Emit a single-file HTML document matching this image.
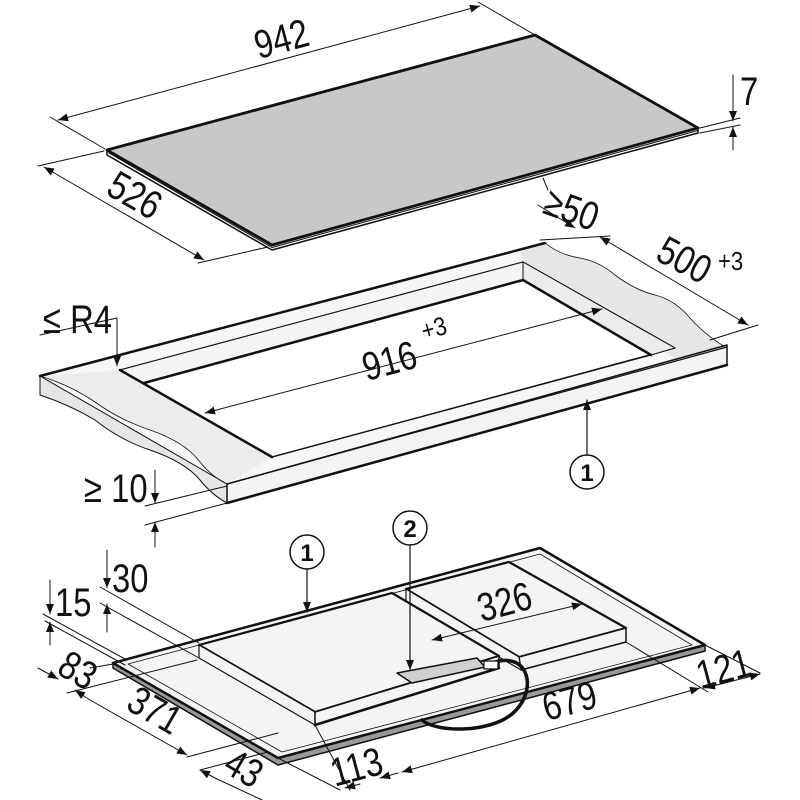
<!DOCTYPE html>
<html><head><meta charset="utf-8"><style>
html,body{margin:0;padding:0;background:#fff;}
svg{display:block;}
text{font-family:"Liberation Sans",sans-serif;fill:#111;}
</style></head><body>
<svg width="800" height="800" viewBox="0 0 800 800" xmlns="http://www.w3.org/2000/svg">
<defs>
<marker id="a" viewBox="0 0 10 10" refX="10" refY="5" markerWidth="14" markerHeight="10" markerUnits="userSpaceOnUse" orient="auto-start-reverse">
<path d="M0,1 L10,5 L0,9 z" fill="#111"/></marker>
</defs>
<g stroke="#111" fill="none" stroke-linecap="round" stroke-linejoin="round">

<!-- ===== GLASS TOP ===== -->
<polygon points="107,150 272,245 698,128 698,133 272,250 107,155" fill="#fff" stroke-width="1.5"/>
<line x1="109" y1="153" x2="272" y2="247.5" stroke-width="1"/>
<line x1="272" y1="247.5" x2="698" y2="130.5" stroke-width="1"/>
<polygon points="107,150 535,35 698,128 272,245" fill="#c8c8c8" stroke-width="2.8"/>
<line x1="105" y1="149" x2="50" y2="117" stroke-width="1"/>
<line x1="535" y1="35" x2="478" y2="2" stroke-width="1"/>
<line x1="58" y1="120" x2="480" y2="6" stroke-width="1" marker-start="url(#a)" marker-end="url(#a)"/>
<line x1="104" y1="151" x2="38" y2="166" stroke-width="1"/>
<line x1="268" y1="247" x2="198" y2="263" stroke-width="1"/>
<line x1="44" y1="167" x2="204" y2="260" stroke-width="1" marker-start="url(#a)" marker-end="url(#a)"/>
<line x1="700" y1="128" x2="740" y2="118" stroke-width="1"/>
<line x1="700" y1="133" x2="740" y2="125" stroke-width="1"/>
<line x1="733" y1="75" x2="733" y2="121" stroke-width="1" marker-end="url(#a)"/>
<line x1="733" y1="150" x2="733" y2="127" stroke-width="1" marker-end="url(#a)"/>
<line x1="543" y1="178" x2="548" y2="190" stroke-width="1"/>
<line x1="538" y1="205" x2="575" y2="228" stroke-width="1" marker-end="url(#a)"/>

<!-- ===== COUNTERTOP ===== -->
<polygon points="40,376 545,243 727,348 227,484" fill="#f6f6f6" stroke="none"/>
<path d="M520,250 L545,243 Q560,255 580,258 Q600,262 615,275 Q635,290 655,295 Q675,300 690,318 Q705,335 727,348 L680,361 L523,262 Z" fill="#e6e6e6" stroke="none"/>
<path d="M545,243 Q560,255 580,258 Q600,262 615,275 Q635,290 655,295 Q675,300 690,318 Q705,335 727,348" stroke-width="0.8"/>
<path d="M40,376 L120,370 L272,457 L227,484 Q212,477 200,462 Q185,442 150,430 Q120,420 95,402 Q70,385 40,376 Z" fill="#ececec" stroke="none"/>
<path d="M40,376 L40,395 Q70,405 95,420 Q120,440 150,450 Q185,462 200,480 Q212,495 227,503 L227,484 Z" fill="#e6e6e6" stroke-width="1"/>
<path d="M40,376 Q70,385 95,402 Q120,420 150,430 Q185,442 200,462 Q212,477 227,484" stroke-width="0.8"/>
<polygon points="227,484 727,345 727,365 227,503" fill="#f3f3f3" stroke-width="1.5"/>
<line x1="227" y1="503" x2="727" y2="365" stroke-width="2.5"/>
<line x1="40" y1="376" x2="545" y2="243" stroke-width="2.5"/>
<line x1="227" y1="484" x2="727" y2="347" stroke-width="1.2"/>
<polygon points="120,370 523,262 675,348 272,457" fill="#fff" stroke-width="1.2"/>
<polygon points="120,370 523,262 523,280 144,383" fill="#f4f4f4" stroke-width="1"/>
<polygon points="523,262 675,348 651,355 523,280" fill="#ececec" stroke-width="1"/>
<line x1="144" y1="383" x2="523" y2="280" stroke-width="2.5"/>
<line x1="523" y1="280" x2="651" y2="355" stroke-width="2.5"/>
<line x1="120" y1="370" x2="272" y2="457" stroke-width="2.5"/>
<line x1="272" y1="457" x2="651" y2="355" stroke-width="1.2"/>
<line x1="205" y1="413" x2="602" y2="309" stroke-width="1" marker-start="url(#a)" marker-end="url(#a)"/>
<line x1="540" y1="240" x2="610" y2="236" stroke-width="1"/>
<line x1="710" y1="340" x2="758" y2="325" stroke-width="1"/>
<line x1="600" y1="237" x2="748" y2="325" stroke-width="1" marker-start="url(#a)" marker-end="url(#a)"/>
<polyline points="40,335 117,318 117,366" stroke-width="1" marker-end="url(#a)"/>
<line x1="227" y1="486" x2="145" y2="506" stroke-width="1"/>
<line x1="227" y1="503" x2="145" y2="525" stroke-width="1"/>
<line x1="155" y1="470" x2="155" y2="503" stroke-width="1" marker-end="url(#a)"/>
<line x1="155" y1="547" x2="155" y2="522" stroke-width="1" marker-end="url(#a)"/>
<circle cx="587" cy="472" r="17" fill="#fff" stroke-width="1.5"/>
<line x1="587" y1="455" x2="587" y2="400" stroke-width="1.2" marker-end="url(#a)"/>

<!-- ===== HOB BOTTOM ===== -->
<polygon points="113,663 278,758 705,645 705,651 278,765 113,668" fill="#999" stroke-width="1.5"/>
<polygon points="113,663 540,548 705,645 278,758" fill="#f4f4f4" stroke-width="2.5"/>
<polygon points="128,664 540,554 692,645 282,752" fill="none" stroke-width="0.8"/>
<line x1="43" y1="614" x2="125" y2="659" stroke-width="1"/>
<line x1="45" y1="621" x2="125" y2="665" stroke-width="1"/>
<line x1="100" y1="587" x2="199" y2="643" stroke-width="1"/>
<line x1="100" y1="603" x2="199" y2="658" stroke-width="1"/>
<polygon points="406,589 509,562 626,628 519,657" fill="#f4f4f4" stroke-width="2.2"/>
<polygon points="519,657 626,628 626,642 521,670" fill="#f4f4f4" stroke-width="1.5"/>
<polygon points="406,589 519,657 521,670 406,602" fill="#f4f4f4" stroke-width="1.2"/>
<polygon points="199,645 392,593 499,656 315,712" fill="#f4f4f4" stroke-width="2.2"/>
<polygon points="199,645 315,712 315,725 199,658" fill="#f4f4f4" stroke-width="1.2"/>
<polygon points="315,712 499,656 499,668 315,725" fill="#f4f4f4" stroke-width="1.5"/>
<line x1="315" y1="725" x2="499" y2="668" stroke-width="2.5"/>
<polygon points="397,673 412,683 485,667 477,658" fill="#d0d0d0" stroke-width="1.5"/>
<path d="M490,664 C528,648 540,690 512,714 C487,734 435,732 422,720" stroke-width="3.5"/>
<rect x="484" y="661" width="14" height="8" fill="#fff" stroke-width="1.2"/>
<circle cx="307" cy="552" r="17" fill="#fff" stroke-width="1.5"/>
<line x1="307" y1="569" x2="307" y2="612" stroke-width="1.2" marker-end="url(#a)"/>
<circle cx="410" cy="528" r="17" fill="#fff" stroke-width="1.5"/>
<line x1="410" y1="545" x2="410" y2="670" stroke-width="1.2" marker-end="url(#a)"/>
<line x1="50" y1="580" x2="50" y2="614" stroke-width="1" marker-end="url(#a)"/>
<line x1="50" y1="645" x2="50" y2="622" stroke-width="1" marker-end="url(#a)"/>
<line x1="107" y1="550" x2="107" y2="588" stroke-width="1" marker-end="url(#a)"/>
<line x1="107" y1="632" x2="107" y2="604" stroke-width="1" marker-end="url(#a)"/>
<line x1="90" y1="668" x2="113" y2="664" stroke-width="1"/>
<line x1="67" y1="693" x2="197" y2="660" stroke-width="1"/>
<line x1="38" y1="668" x2="58" y2="679" stroke-width="1" marker-end="url(#a)"/>
<line x1="75" y1="690" x2="90" y2="700" stroke-width="1" marker-start="url(#a)"/>
<line x1="90" y1="700" x2="187" y2="755" stroke-width="1" marker-end="url(#a)"/>
<line x1="187" y1="757" x2="278" y2="733" stroke-width="1"/>
<line x1="200" y1="770" x2="268" y2="752" stroke-width="1"/>
<line x1="200" y1="770" x2="217" y2="779" stroke-width="1" marker-start="url(#a)"/>
<line x1="217" y1="779" x2="262" y2="800" stroke-width="1"/>
<line x1="315" y1="725" x2="350" y2="790" stroke-width="1"/>
<line x1="278" y1="758" x2="340" y2="790" stroke-width="1"/>
<line x1="345" y1="788" x2="360" y2="784" stroke-width="1" marker-start="url(#a)"/>
<line x1="398" y1="773" x2="380" y2="778" stroke-width="1" marker-end="url(#a)"/>
<line x1="402" y1="772" x2="700" y2="688" stroke-width="1" marker-start="url(#a)" marker-end="url(#a)"/>
<line x1="626" y1="642" x2="708" y2="692" stroke-width="1"/>
<line x1="705" y1="645" x2="760" y2="673" stroke-width="1"/>
<line x1="705" y1="688" x2="760" y2="674" stroke-width="1" marker-start="url(#a)" marker-end="url(#a)"/>
<line x1="432" y1="640" x2="582" y2="604" stroke-width="1" marker-start="url(#a)" marker-end="url(#a)"/>
</g>

<g font-size="40">
<text transform="translate(285,52) rotate(-15) scale(0.82,1)" text-anchor="middle">942</text>
<text transform="translate(128,207) rotate(30) scale(0.82,1)" text-anchor="middle">526</text>
<text transform="translate(740,105) scale(0.82,1)">7</text>
<text transform="translate(567,222) rotate(20) scale(0.82,1)" text-anchor="middle">≥50</text>
<text transform="translate(678,272) rotate(28) scale(0.82,1)" text-anchor="middle">500</text>
<text transform="translate(718,270) scale(0.85,1)" font-size="26">+3</text>
<text transform="translate(393,374) rotate(-15) scale(0.82,1)" text-anchor="middle">916</text>
<text transform="translate(424,340) rotate(-15) scale(0.85,1)" font-size="26">+3</text>
<text transform="translate(43,333) scale(0.82,1)">≤ R4</text>
<text transform="translate(84,502) scale(0.82,1)">≥ 10</text>
<text transform="translate(55,616) scale(0.82,1)">15</text>
<text transform="translate(112,592) scale(0.82,1)">30</text>
<text transform="translate(71,682) rotate(30) scale(0.82,1)" text-anchor="middle">83</text>
<text transform="translate(148,722) rotate(30) scale(0.82,1)" text-anchor="middle">371</text>
<text transform="translate(237,780) rotate(30) scale(0.82,1)" text-anchor="middle">43</text>
<text transform="translate(360,780) rotate(-15) scale(0.82,1)" text-anchor="middle">113</text>
<text transform="translate(573,714) rotate(-15) scale(0.82,1)" text-anchor="middle">679</text>
<text transform="translate(727,682) rotate(-15) scale(0.82,1)" text-anchor="middle">121</text>
<text transform="translate(508,615) rotate(-15) scale(0.82,1)" text-anchor="middle">326</text>
</g>
<g font-size="24" font-weight="bold" text-anchor="middle">
<text x="587" y="481">1</text>
<text x="307" y="561">1</text>
<text x="410" y="537">2</text>
</g>
</svg>
</body></html>
